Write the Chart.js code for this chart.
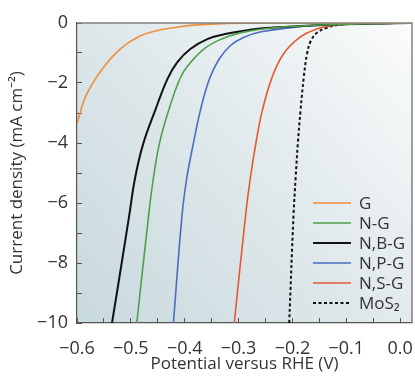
<!DOCTYPE html>
<html>
<head>
<meta charset="utf-8">
<script src="https://cdn.jsdelivr.net/npm/chart.js@4.4.0/dist/chart.umd.min.js"></script>
<style>
  html, body { margin: 0; padding: 0; background: #ffffff; }
  #wrap { width: 415px; height: 382px; }
</style>
</head>
<body>
<div id="wrap"><canvas id="polarChart" width="415" height="382"></canvas></div>
<script>
// valores (potencial en V, densidad de corriente en mA cm-2)
const gV  = [-0.6, -0.582, -0.551, -0.52, -0.489, -0.455, -0.415, -0.384, -0.34, -0.3, -0.2, 0.022];
const gJ  = [-3.35, -2.37, -1.48, -0.87, -0.49, -0.27, -0.14, -0.07, -0.03, -0.01, 0, 0];

const ngV = [-0.489, -0.467, -0.458, -0.447, -0.43, -0.409, -0.394, -0.364, -0.331, -0.297, -0.256, -0.186, -0.12, -0.05, 0.022];
const ngJ = [-10, -6.41, -5.15, -4.02, -2.92, -1.86, -1.42, -0.86, -0.53, -0.33, -0.2, -0.1, -0.05, -0.02, 0];

const nbV = [-0.535, -0.517, -0.503, -0.492, -0.477, -0.455, -0.432, -0.414, -0.389, -0.357, -0.325, -0.291, -0.251, -0.186, -0.12, -0.05, 0.022];
const nbJ = [-10, -8, -6.41, -5.15, -4.02, -2.92, -1.86, -1.31, -0.86, -0.53, -0.37, -0.26, -0.17, -0.1, -0.05, -0.02, 0];

const npV = [-0.421, -0.405, -0.396, -0.384, -0.371, -0.354, -0.336, -0.315, -0.291, -0.26, -0.186, -0.13, -0.055, 0.022];
const npJ = [-10, -6.41, -5.15, -4.02, -2.92, -1.86, -1.2, -0.75, -0.48, -0.3, -0.12, -0.06, -0.02, 0];

const nsV = [-0.308, -0.287, -0.278, -0.268, -0.256, -0.238, -0.217, -0.187, -0.156, -0.13, -0.102, -0.055, 0.022];
const nsJ = [-10, -6.41, -5.15, -4.02, -2.92, -1.82, -1.04, -0.49, -0.21, -0.1, -0.05, -0.02, 0];

const msV = [-0.206, -0.198, -0.194, -0.19, -0.185, -0.179, -0.173, -0.166, -0.154, -0.136, -0.117, -0.093, -0.046, 0.022];
const msJ = [-10, -6.41, -5.15, -4.02, -2.92, -1.82, -1.04, -0.6, -0.32, -0.16, -0.07, -0.03, -0.01, 0];

const etiquetas = ['G', 'N-G', 'N,B-G', 'N,P-G', 'N,S-G', 'MoS\u2082'];

// marcas de los ejes
const xTicks = [-0.6, -0.55, -0.5, -0.45, -0.4, -0.35, -0.3, -0.25, -0.2, -0.15, -0.1, -0.05, 0];
const xTickLabels = ['\u22120.6', '', '\u22120.5', '', '\u22120.4', '', '\u22120.3', '', '\u22120.2', '', '\u22120.1', '', '0.0'];
const yTicks = [-10, -9, -8, -7, -6, -5, -4, -3, -2, -1, 0];
const yTickLabels = ['\u221210', '', '\u22128', '', '\u22126', '', '\u22124', '', '\u22122', '', '0'];

const fuente = '"Open Sans", "Noto Sans", sans-serif';
const colorTexto = '#333333';

const puntos = (xs, ys) => xs.map((x, i) => ({ x: x, y: ys[i] }));

// fondo degradado del area del grafico
const fondoPlugin = {
    id: 'fondo',
    beforeDraw(chart) {
        const { ctx, chartArea: a } = chart;
        const grad = ctx.createLinearGradient(a.left, a.bottom, a.right, a.top);
        grad.addColorStop(0, '#c8d9de');
        grad.addColorStop(0.5, '#dfe8eb');
        grad.addColorStop(1, '#fbfcfc');
        ctx.save();
        ctx.fillStyle = grad;
        ctx.fillRect(a.left, a.top, a.right - a.left, a.bottom - a.top);
        ctx.restore();
    },
    afterDraw(chart) {
        const { ctx, chartArea: a } = chart;
        ctx.save();
        ctx.strokeStyle = '#808080';
        ctx.lineWidth = 1.5;
        ctx.beginPath();
        ctx.moveTo(a.left, a.top);
        ctx.lineTo(a.right, a.top);
        ctx.lineTo(a.right, a.bottom);
        ctx.stroke();
        ctx.restore();
    }
};

// leyenda dentro del area del grafico
const leyendaPlugin = {
    id: 'leyendaInterna',
    afterDatasetsDraw(chart) {
        const { ctx, chartArea: a } = chart;
        const x0 = a.right - 99;
        const y0 = a.bottom - 120;
        ctx.save();
        ctx.font = '17px ' + fuente;
        ctx.textBaseline = 'middle';
        ctx.textAlign = 'left';
        chart.data.datasets.forEach((ds, i) => {
            const y = y0 + i * 20;
            ctx.strokeStyle = ds.borderColor;
            ctx.lineWidth = ds.borderWidth;
            ctx.setLineDash(ds.borderDash || []);
            ctx.beginPath();
            ctx.moveTo(x0, y);
            ctx.lineTo(x0 + 38, y);
            ctx.stroke();
            ctx.setLineDash([]);
            ctx.fillStyle = colorTexto;
            ctx.fillText(ds.label, x0 + 46, y + 1);
        });
        ctx.restore();
    }
};

const series = [
    { v: gV,  j: gJ,  color: '#ec8f3e', ancho: 1.6 },
    { v: ngV, j: ngJ, color: '#4f9f4b', ancho: 1.6 },
    { v: nbV, j: nbJ, color: '#111111', ancho: 2 },
    { v: npV, j: npJ, color: '#4b6cc0', ancho: 1.6 },
    { v: nsV, j: nsJ, color: '#e35a2f', ancho: 1.6 },
    { v: msV, j: msJ, color: '#111111', ancho: 2, dash: [3, 2.5] }
];

new Chart(document.getElementById('polarChart').getContext('2d'), {
    type: 'line',
    data: {
        datasets: series.map((s, i) => ({
            label: etiquetas[i],
            data: puntos(s.v, s.j),
            borderColor: s.color,
            borderWidth: s.ancho,
            borderDash: s.dash || [],
            pointRadius: 0,
            tension: 0.4,
            fill: false
        }))
    },
    options: {
        responsive: false,
        animation: false,
        devicePixelRatio: 1,
        layout: { autoPadding: false, padding: { top: 23, right: 3, left: 0, bottom: 0 } },
        plugins: { legend: { display: false }, tooltip: { enabled: false } },
        scales: {
            x: {
                type: 'linear',
                min: -0.6,
                max: 0.022,
                afterFit: (scale) => {
                    scale.height = 59;
                    scale.paddingLeft = 0;
                    scale.paddingRight = 0;
                },
                afterBuildTicks: (scale) => { scale.ticks = xTicks.map(v => ({ value: v })); },
                border: { color: '#555555', width: 1.2 },
                grid: { drawOnChartArea: false, tickLength: -5, color: '#555555' },
                ticks: {
                    autoSkip: false,
                    maxRotation: 0,
                    padding: 20,
                    color: colorTexto,
                    font: { family: fuente, size: 18 },
                    callback: (v, i) => xTickLabels[i]
                },
                title: {
                    display: true,
                    text: 'Potential versus RHE (V)',
                    color: colorTexto,
                    font: { family: fuente, size: 17 },
                    padding: { top: 0, bottom: 8 }
                }
            },
            y: {
                type: 'linear',
                min: -10,
                max: 0,
                afterFit: (scale) => {
                    scale.width = 77;
                    scale.paddingTop = 0;
                    scale.paddingBottom = 0;
                },
                afterBuildTicks: (scale) => { scale.ticks = yTicks.map(v => ({ value: v })); },
                border: { color: '#555555', width: 1.2 },
                grid: { drawOnChartArea: false, tickLength: -5, color: '#555555' },
                ticks: {
                    autoSkip: false,
                    padding: 14,
                    color: colorTexto,
                    font: { family: fuente, size: 18 },
                    callback: (v, i) => yTickLabels[i]
                },
                title: {
                    display: true,
                    text: 'Current density (mA cm\u207B\u00B2)',
                    color: colorTexto,
                    font: { family: fuente, size: 17 },
                    padding: { top: 7, bottom: 0 }
                }
            }
        }
    },
    plugins: [fondoPlugin, leyendaPlugin]
});
</script>
</body>
</html>
